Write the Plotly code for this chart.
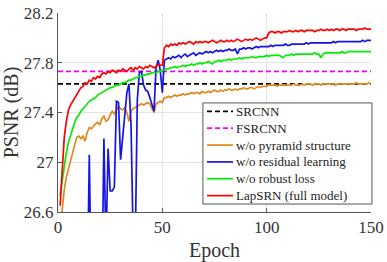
import plotly.graph_objects as go

epochs = list(range(1, 151))

srcnn_psnr = 27.63
fsrcnn_psnr = 27.73

lapsrn_full = [
    26.65, 26.95, 27.20, 27.33, 27.42, 27.46, 27.49, 27.52, 27.55, 27.58,
    27.60, 27.61, 27.64, 27.63, 27.66, 27.65, 27.68, 27.67, 27.69, 27.68,
    27.71, 27.72, 27.71, 27.73, 27.72, 27.74, 27.73, 27.72, 27.74, 27.73,
    27.75, 27.74, 27.73, 27.75, 27.76, 27.74, 27.76, 27.75, 27.77, 27.76,
    27.75, 27.77, 27.76, 27.78, 27.77, 27.76, 27.77, 27.79, 27.78, 27.78,
    27.92, 27.94, 27.93, 27.95, 27.94, 27.95, 27.94, 27.96, 27.95, 27.96,
    27.95, 27.96, 27.97, 27.96, 27.95, 27.97, 27.96, 27.97, 27.96, 27.97,
    27.97, 27.96, 27.97, 27.98, 27.97, 27.96, 27.97, 27.98, 27.97, 27.97,
    27.98, 27.97, 27.98, 27.97, 27.98, 27.99, 27.98, 27.97, 27.98, 27.99,
    27.98, 27.99, 27.98, 27.99, 28.00, 27.99, 27.98, 27.99, 28.00, 28.00,
    28.04, 28.05, 28.05, 28.04, 28.05, 28.05, 28.04, 28.05, 28.05, 28.05,
    28.06, 28.05, 28.05, 28.06, 28.05, 28.06, 28.06, 28.05, 28.06, 28.06,
    28.06, 28.06, 28.05, 28.06, 28.06, 28.07, 28.06, 28.06, 28.07, 28.06,
    28.07, 28.06, 28.07, 28.07, 28.06, 28.07, 28.07, 28.06, 28.07, 28.07,
    28.07, 28.07, 28.06, 28.07, 28.07, 28.07, 28.08, 28.07, 28.07, 28.07,
]

wo_residual = [
    25.60, 25.80, 25.90, 26.00, 26.05, 26.10, 26.15, 26.20, 26.20, 26.25,
    26.25, 26.30, 26.30, 25.90, 27.06, 25.90, 26.00, 26.10, 26.10, 26.20,
    25.90, 27.19, 26.30, 27.11, 26.77, 26.77, 26.80, 27.49, 27.48, 27.02,
    27.20, 27.38, 27.56, 27.63, 27.30, 26.40, 26.30, 27.50, 27.72, 27.73,
    27.62, 27.58, 27.57, 27.52, 27.47, 27.41, 27.76, 27.82, 27.74, 27.56,
    27.82, 27.83, 27.84, 27.83, 27.85, 27.84, 27.85, 27.86, 27.84, 27.86,
    27.87, 27.85, 27.86, 27.87, 27.88, 27.86, 27.87, 27.88, 27.87, 27.88,
    27.89, 27.88, 27.89, 27.88, 27.89, 27.90, 27.89, 27.90, 27.89, 27.90,
    27.90, 27.91, 27.90, 27.90, 27.91, 27.87, 27.91, 27.91, 27.92, 27.91,
    27.92, 27.92, 27.91, 27.92, 27.93, 27.92, 27.93, 27.93, 27.93, 27.93,
    27.93, 27.94, 27.93, 27.94, 27.94, 27.94, 27.94, 27.94, 27.95, 27.94,
    27.94, 27.95, 27.95, 27.95, 27.95, 27.95, 27.95, 27.95, 27.96, 27.95,
    27.96, 27.96, 27.96, 27.96, 27.96, 27.96, 27.96, 27.96, 27.96, 27.96,
    27.96, 27.97, 27.96, 27.97, 27.97, 27.97, 27.97, 27.97, 27.97, 27.97,
    27.97, 27.97, 27.97, 27.97, 27.97, 27.98, 27.97, 27.98, 27.98, 27.98,
]

wo_robust = [
    26.73, 26.86, 26.98, 27.08, 27.16, 27.22, 27.28, 27.32, 27.36, 27.38,
    27.41, 27.43, 27.45, 27.47, 27.49, 27.50, 27.51, 27.52, 27.54, 27.55,
    27.56, 27.57, 27.58, 27.59, 27.60, 27.60, 27.61, 27.62, 27.62, 27.63,
    27.64, 27.64, 27.65, 27.66, 27.66, 27.67, 27.68, 27.68, 27.69, 27.69,
    27.70, 27.70, 27.71, 27.71, 27.72, 27.72, 27.72, 27.73, 27.73, 27.74,
    27.74, 27.75, 27.75, 27.76, 27.76, 27.77, 27.76, 27.77, 27.77, 27.78,
    27.77, 27.78, 27.78, 27.79, 27.78, 27.79, 27.79, 27.80, 27.79, 27.80,
    27.80, 27.81, 27.80, 27.79, 27.81, 27.81, 27.82, 27.81, 27.82, 27.82,
    27.82, 27.83, 27.82, 27.83, 27.83, 27.83, 27.84, 27.83, 27.84, 27.84,
    27.84, 27.84, 27.85, 27.84, 27.84, 27.85, 27.85, 27.85, 27.85, 27.86,
    27.85, 27.86, 27.86, 27.86, 27.86, 27.86, 27.85, 27.84, 27.86, 27.86,
    27.86, 27.87, 27.86, 27.87, 27.87, 27.87, 27.87, 27.87, 27.87, 27.87,
    27.87, 27.87, 27.88, 27.87, 27.87, 27.84, 27.87, 27.88, 27.88, 27.88,
    27.88, 27.88, 27.88, 27.88, 27.88, 27.89, 27.88, 27.88, 27.89, 27.89,
    27.89, 27.89, 27.89, 27.89, 27.89, 27.89, 27.89, 27.89, 27.89, 27.89,
]

wo_pyramid = [
    26.45, 26.62, 26.78, 26.88, 26.95, 27.02, 27.08, 27.14, 27.20, 27.21,
    27.19, 27.21, 27.17, 27.24, 27.28, 27.27, 27.29, 27.31, 27.32, 27.30,
    27.35, 27.37, 27.33, 27.34, 27.38, 27.41, 27.39, 27.42, 27.45, 27.43,
    27.42, 27.44, 27.40, 27.33, 27.41, 27.43, 27.44, 27.45, 27.46, 27.47,
    27.46, 27.47, 27.48, 27.47, 27.44, 27.40, 27.47, 27.48, 27.49, 27.48,
    27.52, 27.52, 27.53, 27.52, 27.53, 27.54, 27.53, 27.54, 27.54, 27.55,
    27.54, 27.55, 27.55, 27.56, 27.55, 27.56, 27.56, 27.55, 27.57, 27.56,
    27.56, 27.57, 27.56, 27.57, 27.58, 27.57, 27.57, 27.58, 27.57, 27.58,
    27.58, 27.59, 27.58, 27.58, 27.59, 27.58, 27.59, 27.59, 27.60, 27.59,
    27.59, 27.60, 27.60, 27.59, 27.60, 27.61, 27.60, 27.61, 27.61, 27.61,
    27.62, 27.62, 27.62, 27.62, 27.61, 27.62, 27.62, 27.62, 27.62, 27.62,
    27.62, 27.62, 27.63, 27.62, 27.62, 27.62, 27.63, 27.62, 27.63, 27.63,
    27.63, 27.62, 27.63, 27.63, 27.63, 27.62, 27.63, 27.63, 27.63, 27.63,
    27.63, 27.63, 27.62, 27.63, 27.63, 27.63, 27.63, 27.63, 27.63, 27.63,
    27.63, 27.63, 27.64, 27.63, 27.63, 27.63, 27.63, 27.63, 27.64, 27.63,
]

series_names = ["SRCNN", "FSRCNN", "w/o pyramid structure", "w/o residual learning",
                "w/o robust loss", "LapSRN (full model)"]
series_colors = ["#000000", "#ff00ff", "#e2891c", "#1414e6", "#00ee00", "#ff0000"]
series_dash = ["5px,3px", "5px,3px", "solid", "solid", "solid", "solid"]

x_ticks = [0, 50, 100, 150]
y_ticks = [26.6, 27.0, 27.4, 27.8, 28.2]
y_tick_text = ["26.6", "27", "27.4", "27.8", "28.2"]

FONT = "Liberation Serif, Times New Roman, serif"
TXT = "#333333"

x_span = [0, 150]
series_y = [
    (x_span, [srcnn_psnr] * 2),
    (x_span, [fsrcnn_psnr] * 2),
    (epochs, wo_pyramid),
    (epochs, wo_residual),
    (epochs, wo_robust),
    (epochs, lapsrn_full),
]

fig = go.Figure()
for (xs, ys), name, col, dash in zip(series_y, series_names, series_colors, series_dash):
    fig.add_trace(go.Scatter(x=xs, y=ys, mode="lines", name=name, showlegend=False,
                             line=dict(color=col, width=1.7, dash=dash)))

# Legend box (MATLAB-like compact legend), in paper coordinates
box_x0, box_x1 = 0.463, 1.003
box_y0, box_y1 = 0.040, 0.548
shapes = [dict(type="rect", xref="paper", yref="paper", x0=box_x0, x1=box_x1,
               y0=box_y0, y1=box_y1, fillcolor="white",
               line=dict(color="#555555", width=1), layer="above")]
annotations = []
row_h = (box_y1 - box_y0) / 6.0
for i, (name, col, dash) in enumerate(zip(series_names, series_colors, series_dash)):
    yc = box_y1 - row_h * (i + 0.5)
    shapes.append(dict(type="line", xref="paper", yref="paper",
                       x0=box_x0 + 0.013, x1=box_x0 + 0.096, y0=yc, y1=yc,
                       line=dict(color=col, width=1.7, dash=dash), layer="above"))
    annotations.append(dict(xref="paper", yref="paper", x=box_x0 + 0.100, y=yc,
                            xanchor="left", yanchor="middle", showarrow=False,
                            text=name, font=dict(family=FONT, size=13, color="#222222")))

axis_common = dict(showgrid=True, gridcolor="#e3e3e3", gridwidth=1,
                   showline=True, linecolor="#555555", linewidth=1,
                   ticks="inside", ticklen=4, tickcolor="#555555", automargin=False,
                   zeroline=False, tickfont=dict(family=FONT, size=17, color=TXT))

fig.update_layout(
    width=387, height=262,
    margin=dict(l=58, r=16, t=13, b=50, autoexpand=False),
    paper_bgcolor="white", plot_bgcolor="white",
    font=dict(family=FONT, color=TXT),
    xaxis=dict(range=[0, 150], tickvals=x_ticks, **axis_common,
               title=dict(text="Epoch", font=dict(family=FONT, size=20, color=TXT))),
    yaxis=dict(range=[26.6, 28.2], tickvals=y_ticks, ticktext=y_tick_text, **axis_common,
               title=dict(text="PSNR (dB)", font=dict(family=FONT, size=20, color=TXT))),
    shapes=shapes,
    annotations=annotations,
    showlegend=False,
)

fig.write_html("out.html")
